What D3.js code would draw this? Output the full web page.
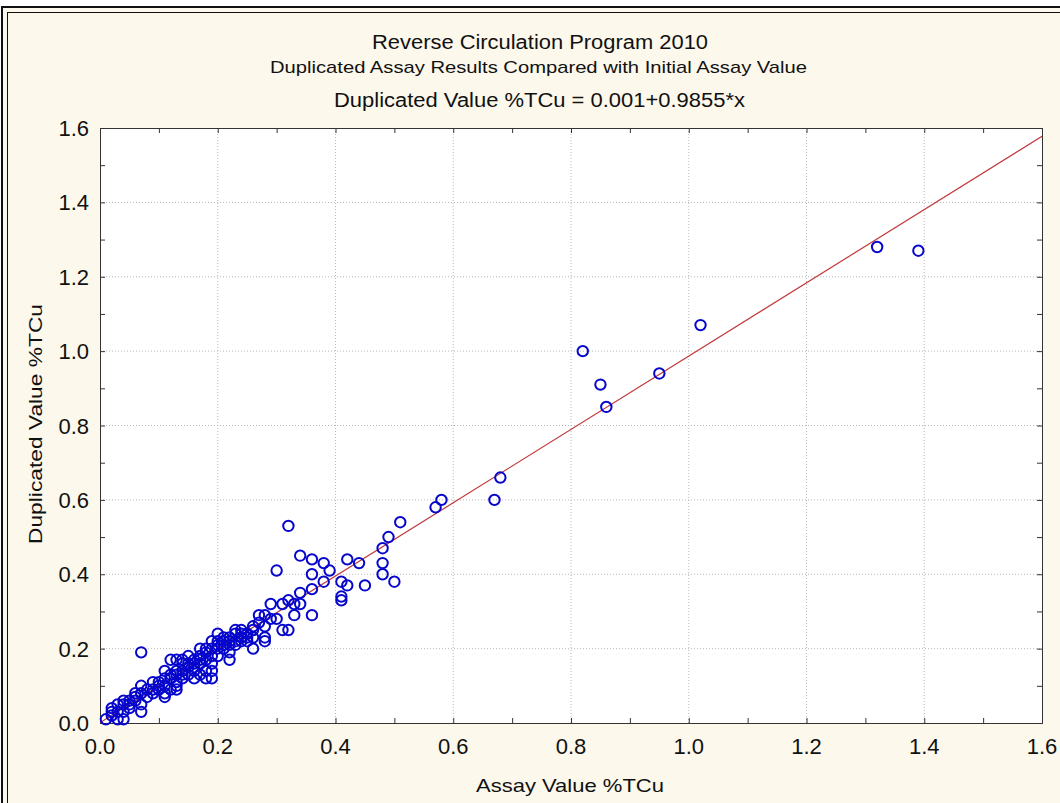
<!DOCTYPE html>
<html><head><meta charset="utf-8">
<script src="https://cdn.jsdelivr.net/npm/d3@7"></script>
<style>body{margin:0;background:#fff}svg{display:block}text{font-family:"Liberation Sans",Arial,sans-serif;fill:#111}</style>
</head><body>
<script>
const titleLines = ["Reverse Circulation Program 2010","Duplicated Assay Results Compared with Initial Assay Value","Duplicated Value %TCu = 0.001+0.9855*x"];
const xLabel = "Assay Value %TCu";
const yLabel = "Duplicated Value %TCu";
const tickValues = [0,0.2,0.4,0.6,0.8,1.0,1.2,1.4,1.6];
const fitIntercept = 0.001, fitSlope = 0.9855;
const assayX = [1.32,1.39,1.02,0.82,0.85,0.86,0.95,0.58,0.57,0.68,0.67,0.51,0.49,0.48,0.48,0.48,0.50,0.44,0.42,0.41,0.42,0.45,0.41,0.41,0.39,
 0.34,0.36,0.38,0.36,0.30,0.38,0.36,0.34,0.34,0.33,0.32,0.31,0.29,0.36,0.33,0.30,0.27,0.28,0.28,0.27,0.31,0.32,0.26,0.26,0.28,0.32,
 0.28,0.26,0.25,0.24,0.25,0.25,0.26,0.24,0.23,0.22,0.21,0.20,0.19,0.23,0.22,0.21,0.20,0.18,0.17,0.22,0.22,0.20,0.19,0.17,0.15,0.14,0.13,0.16,0.19,0.18,0.17,0.14,0.13,0.12,0.19,0.16,0.13,0.18,
 0.12,0.13,0.14,0.11,0.12,0.13,0.14,0.13,0.11,0.11,0.09,0.09,0.07,0.07,0.06,0.07,0.07,0.05,0.04,0.02,0.03,0.02,0.03,0.04,0.01,0.07,0.10,0.08,0.05,0.03,0.04,0.06,0.12,0.10,0.15,0.16,0.17,0.18,0.19,0.19,0.20,0.21,0.16,0.15,0.11,0.29,0.24,0.23,
 0.02,0.04,0.05,0.06,0.08,0.09,0.10,0.11,0.12,0.14,0.15,0.16,0.17,0.18,0.20,0.21,0.23,0.24,0.22];
const duplicateY = [1.28,1.27,1.07,1.00,0.91,0.85,0.94,0.60,0.58,0.66,0.60,0.54,0.50,0.47,0.43,0.40,0.38,0.43,0.44,0.38,0.37,0.37,0.34,0.33,0.41,
 0.45,0.44,0.43,0.40,0.41,0.38,0.36,0.35,0.32,0.32,0.33,0.32,0.32,0.29,0.29,0.28,0.29,0.29,0.26,0.27,0.25,0.25,0.26,0.25,0.23,0.53,
 0.22,0.20,0.22,0.25,0.24,0.23,0.23,0.23,0.24,0.23,0.23,0.24,0.22,0.21,0.21,0.20,0.20,0.20,0.20,0.19,0.17,0.18,0.18,0.17,0.18,0.17,0.17,0.16,0.14,0.14,0.13,0.14,0.13,0.12,0.12,0.12,0.09,0.12,
 0.17,0.14,0.16,0.14,0.12,0.11,0.12,0.10,0.10,0.08,0.11,0.09,0.10,0.08,0.08,0.05,0.03,0.06,0.05,0.04,0.03,0.02,0.01,0.01,0.01,0.19,0.10,0.09,0.04,0.05,0.06,0.07,0.09,0.11,0.15,0.14,0.16,0.17,0.16,0.20,0.22,0.21,0.17,0.13,0.07,0.28,0.22,0.25,
 0.03,0.03,0.05,0.06,0.07,0.08,0.09,0.12,0.13,0.13,0.16,0.15,0.18,0.19,0.21,0.22,0.22,0.24,0.22];

const W = 1060, H = 803;
const M = {left:100, right:1042, top:128, bottom:723};
const svg = d3.select("body").append("svg").attr("width",W).attr("height",H);
svg.append("rect").attr("x",2).attr("y",7).attr("width",W).attr("height",H).attr("fill","#fcf8ec");
svg.append("rect").attr("x",2).attr("y",7).attr("width",W+10).attr("height",H+10).attr("fill","none").attr("stroke","#111").attr("stroke-width",2);
svg.append("rect").attr("x",7.5).attr("y",12.5).attr("width",W+10).attr("height",H+10).attr("fill","none").attr("stroke","#111").attr("stroke-width",1);

const x = d3.scaleLinear().domain([0,1.6]).range([M.left,M.right]);
const y = d3.scaleLinear().domain([0,1.6]).range([M.bottom,M.top]);
svg.append("rect").attr("x",M.left).attr("y",M.top).attr("width",M.right-M.left).attr("height",M.bottom-M.top).attr("fill","#fff");

// grid
const g = svg.append("g");
tickValues.slice(1,-1).forEach(v=>{
  g.append("line").attr("x1",x(v)).attr("x2",x(v)).attr("y1",M.top).attr("y2",M.bottom).attr("stroke","#b8b8b8").attr("stroke-dasharray","1,2");
  g.append("line").attr("y1",y(v)).attr("y2",y(v)).attr("x1",M.left).attr("x2",M.right).attr("stroke","#b8b8b8").attr("stroke-dasharray","1,2");
});
// axes with inner ticks
const minor = d3.range(0,1.61,0.1);
const axB = d3.axisBottom(x).tickValues(minor).tickSize(-5).tickFormat("");
const axT = d3.axisTop(x).tickValues(minor).tickSize(-5).tickFormat("");
const axL = d3.axisLeft(y).tickValues(minor).tickSize(-5).tickFormat("");
const axR = d3.axisRight(y).tickValues(minor).tickSize(-5).tickFormat("");
[[axB,`translate(0,${M.bottom})`],[axT,`translate(0,${M.top})`],[axL,`translate(${M.left},0)`],[axR,`translate(${M.right},0)`]].forEach(([a,t])=>{
  const gg = svg.append("g").attr("transform",t).call(a);
  gg.select(".domain").attr("stroke","#333");
  gg.selectAll(".tick line").attr("stroke","#333");
});
// tick labels
svg.append("g").selectAll("text").data(tickValues).join("text")
  .attr("x",d=>x(d)).attr("y",M.bottom+31).attr("text-anchor","middle").style("font-size","22px").text(d=>d.toFixed(1));
svg.append("g").selectAll("text").data(tickValues).join("text")
  .attr("x",M.left-11).attr("y",d=>y(d)+8).attr("text-anchor","end").style("font-size","22px").text(d=>d.toFixed(1));

// fit line
svg.append("clipPath").attr("id","c").append("rect").attr("x",M.left).attr("y",M.top).attr("width",M.right-M.left).attr("height",M.bottom-M.top);
svg.append("line").attr("clip-path","url(#c)")
  .attr("x1",x(0)).attr("y1",y(fitIntercept)).attr("x2",x(1.6)).attr("y2",y(fitIntercept+fitSlope*1.6))
  .attr("stroke","#c0393b").attr("stroke-width",1.2);

// points
const pts = assayX.map((v,i)=>[v,duplicateY[i]]);
svg.append("g").selectAll("circle").data(pts).join("circle")
  .attr("cx",d=>x(d[0])).attr("cy",d=>y(d[1])).attr("r",5.2)
  .attr("fill","none").attr("stroke","#0606cc").attr("stroke-width",2);

// titles
svg.append("text").attr("x",540).attr("y",49).attr("text-anchor","middle").style("font-size","20px").attr("textLength",336).attr("lengthAdjust","spacingAndGlyphs").text(titleLines[0]);
svg.append("text").attr("x",538.5).attr("y",73).attr("text-anchor","middle").style("font-size","17px").attr("textLength",537).attr("lengthAdjust","spacingAndGlyphs").text(titleLines[1]);
svg.append("text").attr("x",539.5).attr("y",107).attr("text-anchor","middle").style("font-size","20px").attr("textLength",411).attr("lengthAdjust","spacingAndGlyphs").text(titleLines[2]);
svg.append("text").attr("x",570).attr("y",792).attr("text-anchor","middle").style("font-size","19px").attr("textLength",188).attr("lengthAdjust","spacingAndGlyphs").text(xLabel);
svg.append("text").attr("transform","translate(42,424) rotate(-90)").attr("text-anchor","middle").style("font-size","19px").attr("textLength",240).attr("lengthAdjust","spacingAndGlyphs").text(yLabel);
</script>
</body></html>
